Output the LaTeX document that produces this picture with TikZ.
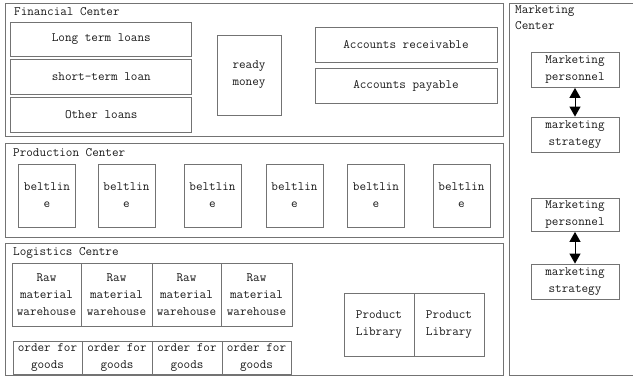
\documentclass[tikz,border=0pt]{standalone}
\usetikzlibrary{arrows.meta}
\begin{document}
\begin{tikzpicture}[x=1pt,y=-1pt,
  every node/.style={font=\ttfamily\fontsize{12.8}{17}\selectfont, text=black!90},
  box/.style={draw=black!55, line width=0.8pt, inner sep=0pt, align=center},
  frame/.style={draw=black!55, line width=0.8pt, inner sep=0pt},
  title/.style={anchor=west, inner sep=0pt, align=left},
  dbl/.style={line width=1pt, {Triangle[width=11pt,length=10pt]}-{Triangle[width=11pt,length=10pt]}}]
\useasboundingbox (0,0) rectangle (633,377);
% containers
\node[frame, minimum width=498, minimum height=133] (fin) at (254,69.5) {};
\node[frame, minimum width=131, minimum height=372] (mkt) at (574.5,189) {};
\node[frame, minimum width=498, minimum height=94] (prod) at (254,190) {};
\node[frame, minimum width=498, minimum height=132] (log) at (254,309) {};
% titles
\node[title] (tfin) at (14,12) {Financial Center};
\node[title] (tprod) at (13,152.5) {Production Center};
\node[title] (tlog) at (13,253) {Logistics Centre};
\node[title, font=\ttfamily\fontsize{12.8}{15.5}\selectfont] (tmkt) at (515,17.5) {Marketing\\Center};
% financial
\node[box, minimum width=181, minimum height=34] (lt) at (101.3,39) {Long term loans};
\node[box, minimum width=181, minimum height=35] (st) at (101.3,76.5) {short-term loan};
\node[box, minimum width=181, minimum height=35] (ol) at (101.3,114.5) {Other loans};
\node[box, minimum width=64, minimum height=80] (rm) at (249,75) {ready\\money};
\node[box, minimum width=182, minimum height=35] (ar) at (406,44.5) {Accounts receivable};
\node[box, minimum width=182, minimum height=35] (ap) at (406,85.5) {Accounts payable};
% marketing
\node[box, minimum width=88, minimum height=35] (mp1) at (575,70) {Marketing\\personnel};
\node[box, minimum width=88, minimum height=35] (ms1) at (575,134.5) {marketing\\strategy};
\node[box, minimum width=88, minimum height=33] (mp2) at (575,215) {Marketing\\personnel};
\node[box, minimum width=88, minimum height=35] (ms2) at (575,281.5) {marketing\\strategy};
\draw[dbl] (mp1.south) -- (ms1.north);
\draw[dbl] (mp2.south) -- (ms2.north);
% production
\foreach \i/\x in {1/47,2/126.5,3/212.5,4/294.5,5/376,6/461.5}{
  \node[box, minimum width=57, minimum height=63] (b\i) at (\x,195.5) {beltlin\\e};
}
% logistics
\node[box, minimum width=69, minimum height=63] (rw1) at (46.5,294.5) {Raw\\material\\warehouse};
\node[box, minimum width=71, minimum height=63] (rw2) at (116.5,294.5) {Raw\\material\\warehouse};
\node[box, minimum width=69, minimum height=63] (rw3) at (186.5,294.5) {Raw\\material\\warehouse};
\node[box, minimum width=71, minimum height=63] (rw4) at (256.5,294.5) {Raw\\material\\warehouse};
\node[box, minimum width=69, minimum height=33] (og1) at (47.5,357.5) {order for\\goods};
\node[box, minimum width=70, minimum height=33] (og2) at (117,357.5) {order for\\goods};
\node[box, minimum width=70, minimum height=33] (og3) at (187,357.5) {order for\\goods};
\node[box, minimum width=69, minimum height=33] (og4) at (256.5,357.5) {order for\\goods};
\node[box, minimum width=70, minimum height=63] (pl1) at (379,324.5) {Product\\Library};
\node[box, minimum width=70, minimum height=63] (pl2) at (449,324.5) {Product\\Library};
\end{tikzpicture}
\end{document}
